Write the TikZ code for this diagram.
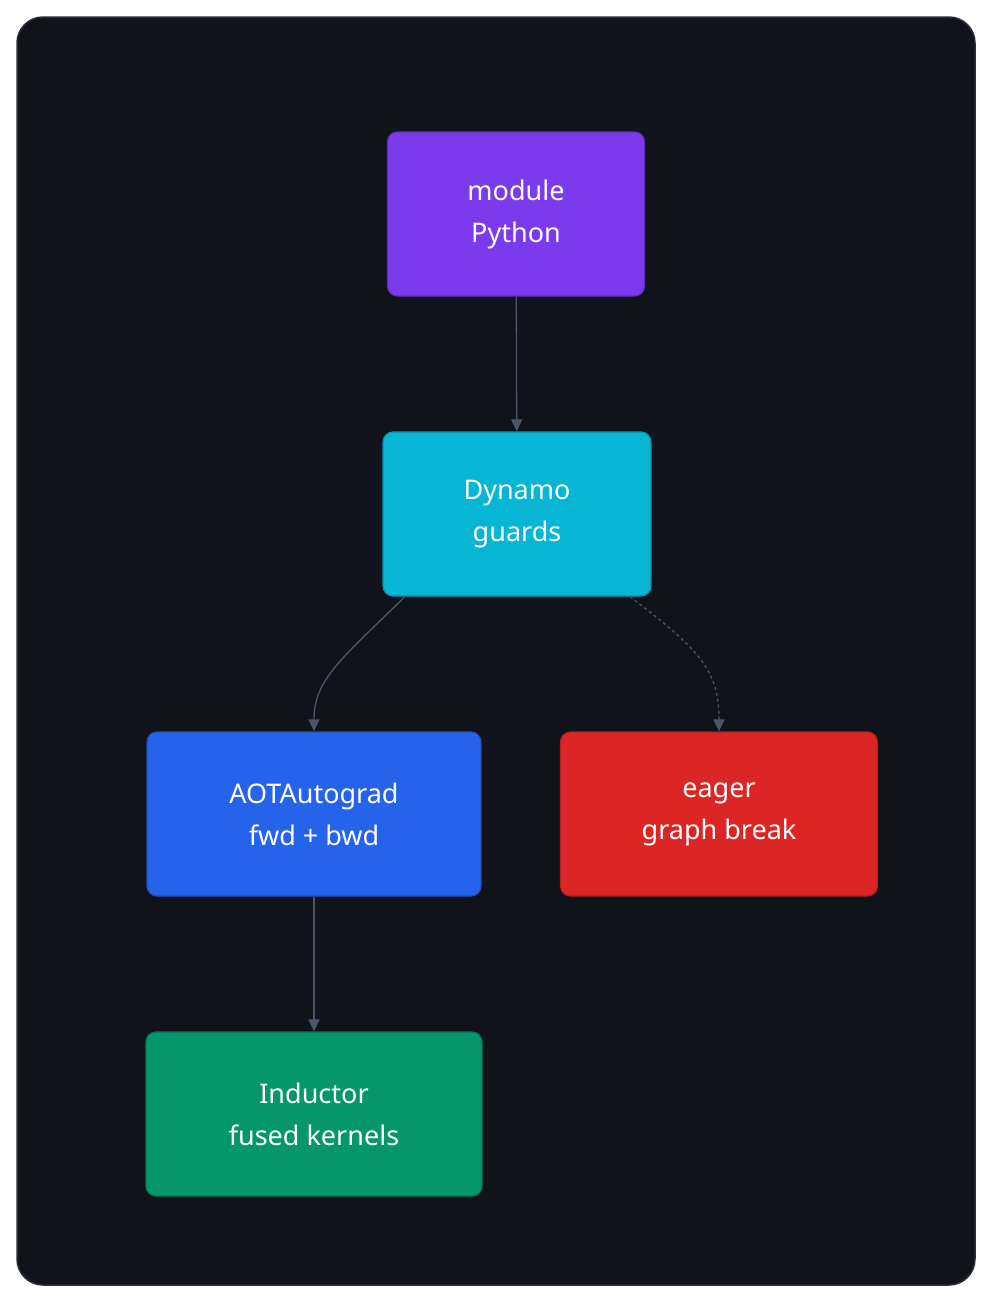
\documentclass[tikz,border=0pt]{standalone}
\usepackage{fontspec}
\setmainfont{Noto Sans}
\usetikzlibrary{arrows.meta}
\definecolor{bgdark}{HTML}{11131B}
\definecolor{bgedge}{HTML}{2B2E38}
\definecolor{linkgray}{HTML}{4B5568}
\definecolor{cpurple}{HTML}{7C3AED}
\definecolor{ccyan}{HTML}{06B6D4}
\definecolor{cblue}{HTML}{2563EB}
\definecolor{cred}{HTML}{DC2626}
\definecolor{cgreen}{HTML}{059669}
\tikzset{
  stage/.style={rounded corners=10pt, draw=#1!80!black, fill=#1, line width=1.2pt,
    text=white, align=center, font=\fontsize{27}{42}\selectfont, minimum height=164pt},
  link/.style={draw=linkgray, line width=1.3pt, -{Triangle[length=12pt,width=11pt]}}
}
\begin{document}
\begin{tikzpicture}[x=1pt,y=-1pt]
\useasboundingbox (0,0) rectangle (992,1302);
\fill[white] (0,0) rectangle (992,1302);
\draw[bgedge, fill=bgdark, line width=1.5pt, rounded corners=26pt] (17,17) rectangle (975,1285);

\node[stage=cpurple, minimum width=257pt] (python) at (516,214) {module\\Python};
\node[stage=ccyan, minimum width=268pt] (dynamo) at (517,514) {Dynamo\\guards};
\node[stage=cblue, minimum width=334pt] (aot) at (314,814) {AOTAutograd\\fwd + bwd};
\node[stage=cred, minimum width=317pt] (eager) at (719,814) {eager\\graph break};
\node[stage=cgreen, minimum width=336pt] (inductor) at (314,1114) {Inductor\\fused kernels};

\draw[link] (python) -- (dynamo);
\draw[link] ([xshift=-112pt]dynamo.south) .. controls (340,660) and (314,680) .. (aot.north);
\draw[link, dashed, dash pattern=on 3pt off 3pt] ([xshift=113pt]dynamo.south) .. controls (700,650) and (719,670) .. (eager.north);
\draw[link] (aot) -- (inductor);
\end{tikzpicture}
\end{document}
